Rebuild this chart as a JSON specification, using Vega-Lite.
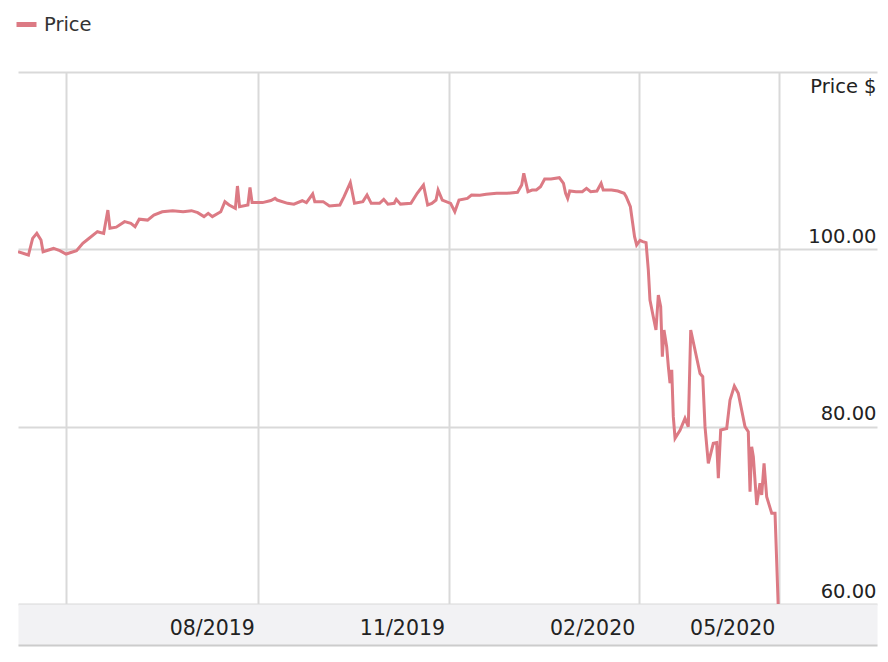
{
  "$schema": "https://vega.github.io/schema/vega-lite/v6.json",
  "width": 859,
  "height": 532,
  "autosize": {"type": "none"},
  "padding": {"left": 18, "top": 72, "right": 11, "bottom": 58},
  "config": {"view": {"stroke": null}, "font": "DejaVu Sans"},
  "data": {"values": [
    {"date": "2019-05-09", "price": 99.73},
    {"date": "2019-05-14", "price": 99.36},
    {"date": "2019-05-16", "price": 101.24},
    {"date": "2019-05-18", "price": 101.8},
    {"date": "2019-05-20", "price": 101.05},
    {"date": "2019-05-21", "price": 99.73},
    {"date": "2019-05-26", "price": 100.1},
    {"date": "2019-05-29", "price": 99.85},
    {"date": "2019-06-01", "price": 99.47},
    {"date": "2019-06-06", "price": 99.84},
    {"date": "2019-06-09", "price": 100.68},
    {"date": "2019-06-11", "price": 101.05},
    {"date": "2019-06-16", "price": 101.99},
    {"date": "2019-06-19", "price": 101.8},
    {"date": "2019-06-21", "price": 104.43},
    {"date": "2019-06-22", "price": 102.37},
    {"date": "2019-06-25", "price": 102.5},
    {"date": "2019-06-29", "price": 103.12},
    {"date": "2019-07-02", "price": 102.94},
    {"date": "2019-07-04", "price": 102.56},
    {"date": "2019-07-06", "price": 103.4},
    {"date": "2019-07-10", "price": 103.3},
    {"date": "2019-07-13", "price": 103.87},
    {"date": "2019-07-17", "price": 104.24},
    {"date": "2019-07-22", "price": 104.36},
    {"date": "2019-07-27", "price": 104.24},
    {"date": "2019-07-31", "price": 104.36},
    {"date": "2019-08-03", "price": 104.14},
    {"date": "2019-08-06", "price": 103.69},
    {"date": "2019-08-08", "price": 104.06},
    {"date": "2019-08-10", "price": 103.69},
    {"date": "2019-08-14", "price": 104.24},
    {"date": "2019-08-16", "price": 105.37},
    {"date": "2019-08-18", "price": 105.0},
    {"date": "2019-08-21", "price": 104.62},
    {"date": "2019-08-22", "price": 107.14},
    {"date": "2019-08-23", "price": 104.81},
    {"date": "2019-08-27", "price": 105.0},
    {"date": "2019-08-28", "price": 106.99},
    {"date": "2019-08-29", "price": 105.27},
    {"date": "2019-09-03", "price": 105.27},
    {"date": "2019-09-07", "price": 105.5},
    {"date": "2019-09-09", "price": 105.75},
    {"date": "2019-09-10", "price": 105.56},
    {"date": "2019-09-15", "price": 105.19},
    {"date": "2019-09-18", "price": 105.1},
    {"date": "2019-09-22", "price": 105.48},
    {"date": "2019-09-24", "price": 105.27},
    {"date": "2019-09-27", "price": 106.24},
    {"date": "2019-09-28", "price": 105.38},
    {"date": "2019-10-02", "price": 105.38},
    {"date": "2019-10-05", "price": 104.89},
    {"date": "2019-10-10", "price": 105.0},
    {"date": "2019-10-12", "price": 105.94},
    {"date": "2019-10-15", "price": 107.52},
    {"date": "2019-10-17", "price": 105.19},
    {"date": "2019-10-21", "price": 105.38},
    {"date": "2019-10-23", "price": 106.13},
    {"date": "2019-10-25", "price": 105.19},
    {"date": "2019-10-29", "price": 105.19},
    {"date": "2019-10-31", "price": 105.64},
    {"date": "2019-11-02", "price": 105.1},
    {"date": "2019-11-05", "price": 105.19},
    {"date": "2019-11-06", "price": 105.64},
    {"date": "2019-11-08", "price": 105.1},
    {"date": "2019-11-13", "price": 105.19},
    {"date": "2019-11-16", "price": 106.32},
    {"date": "2019-11-19", "price": 107.25},
    {"date": "2019-11-21", "price": 105.0},
    {"date": "2019-11-23", "price": 105.19},
    {"date": "2019-11-25", "price": 105.56},
    {"date": "2019-11-26", "price": 106.69},
    {"date": "2019-11-28", "price": 105.56},
    {"date": "2019-12-02", "price": 105.19},
    {"date": "2019-12-04", "price": 104.24},
    {"date": "2019-12-06", "price": 105.56},
    {"date": "2019-12-10", "price": 105.75},
    {"date": "2019-12-12", "price": 106.13},
    {"date": "2019-12-16", "price": 106.1},
    {"date": "2019-12-19", "price": 106.2},
    {"date": "2019-12-24", "price": 106.32},
    {"date": "2019-12-29", "price": 106.32},
    {"date": "2020-01-03", "price": 106.43},
    {"date": "2020-01-05", "price": 107.25},
    {"date": "2020-01-06", "price": 108.57},
    {"date": "2020-01-08", "price": 106.5},
    {"date": "2020-01-10", "price": 106.69},
    {"date": "2020-01-12", "price": 106.69},
    {"date": "2020-01-14", "price": 107.07},
    {"date": "2020-01-16", "price": 107.93},
    {"date": "2020-01-19", "price": 107.93},
    {"date": "2020-01-23", "price": 108.08},
    {"date": "2020-01-25", "price": 107.44},
    {"date": "2020-01-26", "price": 106.32},
    {"date": "2020-01-27", "price": 105.75},
    {"date": "2020-01-28", "price": 106.58},
    {"date": "2020-01-31", "price": 106.5},
    {"date": "2020-02-03", "price": 106.5},
    {"date": "2020-02-05", "price": 106.88},
    {"date": "2020-02-07", "price": 106.5},
    {"date": "2020-02-10", "price": 106.58},
    {"date": "2020-02-12", "price": 107.44},
    {"date": "2020-02-13", "price": 106.69},
    {"date": "2020-02-17", "price": 106.69},
    {"date": "2020-02-20", "price": 106.58},
    {"date": "2020-02-23", "price": 106.32},
    {"date": "2020-02-24", "price": 105.94},
    {"date": "2020-02-26", "price": 104.81},
    {"date": "2020-02-27", "price": 103.12},
    {"date": "2020-02-28", "price": 101.43},
    {"date": "2020-02-29", "price": 100.49},
    {"date": "2020-03-01T15:00", "price": 101.0},
    {"date": "2020-03-02T22:00", "price": 100.86},
    {"date": "2020-03-04T12:00", "price": 100.75},
    {"date": "2020-03-05T14:00", "price": 97.67},
    {"date": "2020-03-06T09:00", "price": 94.28},
    {"date": "2020-03-07T23:00", "price": 92.4},
    {"date": "2020-03-09T06:00", "price": 90.9},
    {"date": "2020-03-10T09:00", "price": 94.85},
    {"date": "2020-03-11T12:00", "price": 93.53},
    {"date": "2020-03-12T07:00", "price": 87.89},
    {"date": "2020-03-13T02:00", "price": 90.9},
    {"date": "2020-03-14T09:00", "price": 89.0},
    {"date": "2020-03-15T04:00", "price": 86.77},
    {"date": "2020-03-15T23:00", "price": 84.9},
    {"date": "2020-03-16T19:00", "price": 86.4},
    {"date": "2020-03-17T13:00", "price": 81.13},
    {"date": "2020-03-18T09:00", "price": 78.69},
    {"date": "2020-03-20T18:00", "price": 79.6},
    {"date": "2020-03-23T03:00", "price": 80.94},
    {"date": "2020-03-24T17:00", "price": 80.0},
    {"date": "2020-03-25T21:00", "price": 90.9},
    {"date": "2020-03-30T08:00", "price": 86.0},
    {"date": "2020-03-31T15:00", "price": 85.64},
    {"date": "2020-04-01T17:00", "price": 80.0},
    {"date": "2020-04-03T07:00", "price": 75.87},
    {"date": "2020-04-05T16:00", "price": 78.12},
    {"date": "2020-04-07T07:00", "price": 78.2},
    {"date": "2020-04-08T02:00", "price": 74.18},
    {"date": "2020-04-09T05:00", "price": 79.62},
    {"date": "2020-04-12T02:00", "price": 79.8},
    {"date": "2020-04-13T16:00", "price": 83.0},
    {"date": "2020-04-15T18:00", "price": 84.58},
    {"date": "2020-04-17T15:00", "price": 83.76},
    {"date": "2020-04-20T20:00", "price": 80.0},
    {"date": "2020-04-22T10:00", "price": 79.44},
    {"date": "2020-04-23T06:00", "price": 72.67},
    {"date": "2020-04-24T01:00", "price": 77.74},
    {"date": "2020-04-24T20:00", "price": 76.61},
    {"date": "2020-04-26T11:00", "price": 71.17},
    {"date": "2020-04-28T00:00", "price": 73.61},
    {"date": "2020-04-28T20:00", "price": 72.3},
    {"date": "2020-04-29T23:00", "price": 75.87},
    {"date": "2020-05-01T05:00", "price": 72.11},
    {"date": "2020-05-03T15:00", "price": 70.23},
    {"date": "2020-05-05T05:00", "price": 70.23},
    {"date": "2020-05-07T00:00", "price": 58.0}
  ]},
  "layer": [
    {
      "mark": {"type": "line", "opacity": 0},
      "encoding": {
        "x": {
          "field": "date", "type": "temporal",
          "scale": {"domain": [{"year": 2019, "month": 5, "date": 9}, {"year": 2020, "month": 6, "date": 23}], "nice": false},
          "axis": {"orient": "bottom", "offset": 20.5, "domainColor": "#f2f2f4", "domainWidth": 41, "domainCap": "butt", "labels": false, "ticks": false, "grid": false, "title": null}
        },
        "y": {
          "field": "price", "type": "quantitative",
          "scale": {"domain": [60, 120], "nice": false, "zero": false},
          "axis": {
            "orient": "right",
            "values": [60, 80, 100, 120],
            "labelExpr": "datum.value >= 120 ? '' : format(datum.value, '.2f')",
            "domain": false,
            "ticks": false,
            "tickSize": 0,
            "grid": true,
            "gridColor": "#d9d9d9",
            "gridWidth": 2,
            "labelAlign": "right",
            "labelBaseline": "alphabetic",
            "labelOffset": -7,
            "labelPadding": -1,
            "labelFontSize": 19.5,
            "labelColor": "#222222",
            "labelFlush": false,
            "labelOverlap": false,
            "title": "Price $",
            "titleAngle": 0,
            "titleAlign": "right",
            "titleBaseline": "alphabetic",
            "titleX": -1,
            "titleY": 20,
            "titleFontSize": 19.5,
            "titleFontWeight": "normal",
            "titleColor": "#222222"
          }
        }
      }
    },
    {
      "mark": {"type": "line", "strokeWidth": 3, "clip": true, "interpolate": "linear"},
      "encoding": {
        "x": {
          "field": "date", "type": "temporal",
          "scale": {"domain": [{"year": 2019, "month": 5, "date": 9}, {"year": 2020, "month": 6, "date": 23}], "nice": false},
          "axis": {
            "orient": "bottom",
            "title": null,
            "values": [
              {"year": 2019, "month": 6, "date": 1},
              {"year": 2019, "month": 9, "date": 1},
              {"year": 2019, "month": 12, "date": 1},
              {"year": 2020, "month": 3, "date": 1},
              {"year": 2020, "month": 5, "date": 7}
            ],
            "labelExpr": "datum.value < datetime(2019, 6, 15) ? '' : timeFormat(datum.value - 86400000, '%m/%Y')",
            "offset": 41,
            "domainColor": "#cccccc",
            "domainWidth": 2,
            "ticks": false,
            "tickSize": 0,
            "grid": true,
            "gridColor": "#d9d9d9",
            "gridWidth": 2,
            "labelAlign": "right",
            "labelBaseline": "alphabetic",
            "labelOffset": -4,
            "labelPadding": -11,
            "labelFontSize": 20.5,
            "labelColor": "#222222",
            "labelFlush": false,
            "labelOverlap": false
          }
        },
        "y": {
          "field": "price", "type": "quantitative",
          "scale": {"domain": [60, 120], "nice": false, "zero": false},
          "axis": {
            "orient": "right",
            "values": [60, 80, 100, 120],
            "labelExpr": "datum.value >= 120 ? '' : format(datum.value, '.2f')",
            "domain": false,
            "ticks": false,
            "tickSize": 0,
            "grid": true,
            "gridColor": "#d9d9d9",
            "gridWidth": 2,
            "labelAlign": "right",
            "labelBaseline": "alphabetic",
            "labelOffset": -7,
            "labelPadding": -1,
            "labelFontSize": 19.5,
            "labelColor": "#222222",
            "labelFlush": false,
            "labelOverlap": false,
            "title": "Price $",
            "titleAngle": 0,
            "titleAlign": "right",
            "titleBaseline": "alphabetic",
            "titleX": -1,
            "titleY": 20,
            "titleFontSize": 19.5,
            "titleFontWeight": "normal",
            "titleColor": "#222222"
          }
        },
        "color": {
          "datum": "Price",
          "scale": {"range": ["#dc7a84"]},
          "legend": {
            "orient": "none",
            "legendX": -4,
            "legendY": -60,
            "title": null,
            "padding": 0,
            "symbolType": "stroke",
            "symbolStrokeWidth": 5,
            "symbolSize": 400,
            "labelFontSize": 19.5,
            "labelColor": "#333333",
            "labelOffset": 5
          }
        }
      }
    }
  ],
  "resolve": {"axis": {"x": "independent"}}
}
